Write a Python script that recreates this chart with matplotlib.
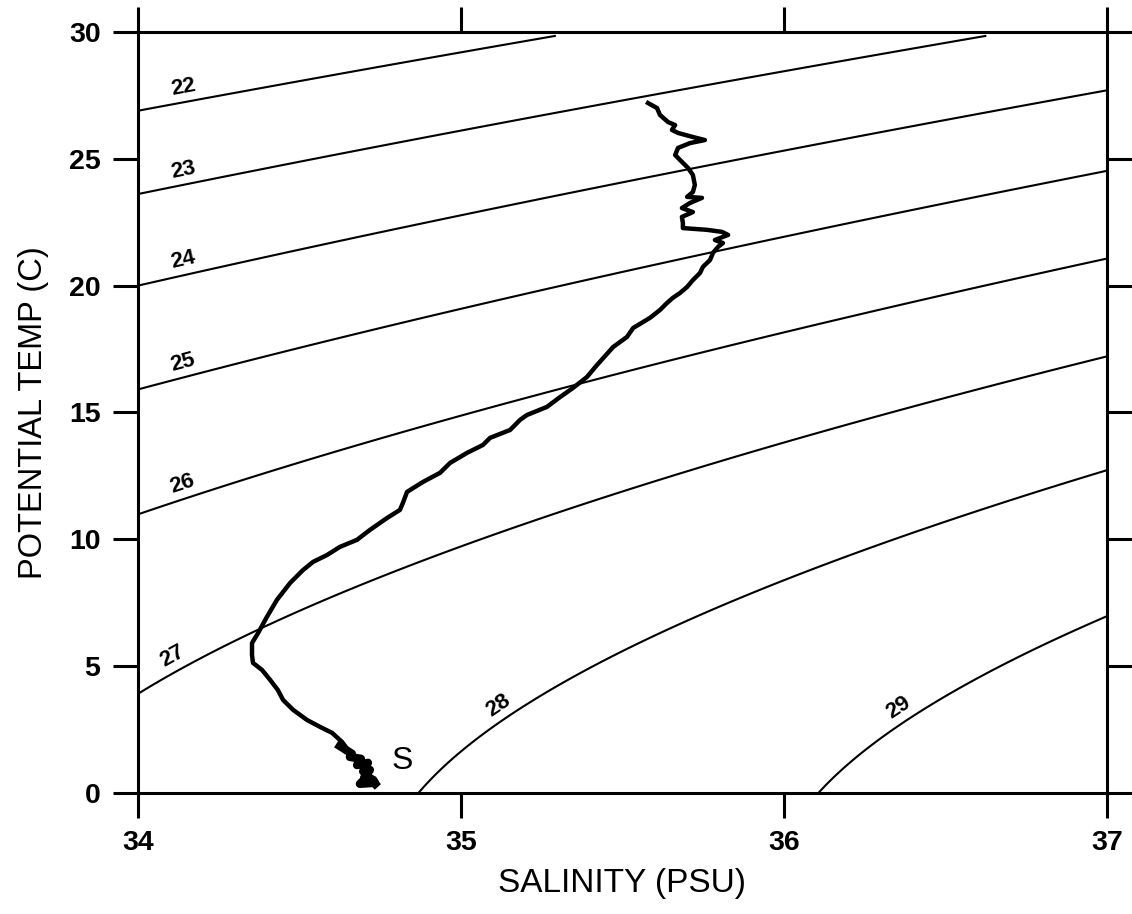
import numpy as np
import matplotlib.pyplot as plt

plt.rcParams['font.family'] = ['Liberation Sans', 'DejaVu Sans']

# T-S profile (salinity PSU, potential temp C), top to bottom
sal_profile = [35.579, 35.607, 35.616, 35.641, 35.663, 35.653, 35.672, 35.718, 35.755, 35.709,
               35.672, 35.663, 35.684, 35.703, 35.718, 35.724, 35.718, 35.700, 35.746, 35.709,
               35.684, 35.718, 35.684, 35.687, 35.687, 35.762, 35.808, 35.827, 35.786, 35.811,
               35.796, 35.780, 35.771, 35.749, 35.740, 35.718, 35.700, 35.678, 35.656, 35.638,
               35.616, 35.585, 35.533, 35.514, 35.471, 35.421, 35.390, 35.347, 35.307, 35.266,
               35.204, 35.183, 35.152, 35.090, 35.068, 35.019, 34.966, 34.935, 34.882, 34.833,
               34.820, 34.811, 34.771, 34.718, 34.678, 34.625, 34.585, 34.542, 34.511, 34.471,
               34.430, 34.399, 34.372, 34.353, 34.353, 34.356, 34.384, 34.409, 34.433, 34.449,
               34.480, 34.523, 34.563, 34.601, 34.632, 34.650, 34.625, 34.662, 34.656, 34.690,
               34.678, 34.712, 34.697, 34.718, 34.700, 34.728, 34.734, 34.687, 34.712, 34.734]
temp_profile = [27.20, 27.00, 26.73, 26.45, 26.33, 26.14, 26.02, 25.86, 25.74, 25.62,
                25.43, 25.15, 24.88, 24.64, 24.36, 23.97, 23.69, 23.50, 23.46, 23.26,
                23.06, 22.90, 22.71, 22.47, 22.27, 22.20, 22.12, 22.00, 21.80, 21.68,
                21.53, 21.29, 21.01, 20.74, 20.50, 20.22, 19.95, 19.71, 19.52, 19.32,
                19.04, 18.73, 18.33, 17.98, 17.58, 16.87, 16.40, 15.97, 15.61, 15.22,
                14.90, 14.71, 14.31, 14.00, 13.72, 13.41, 13.01, 12.62, 12.26, 11.87,
                11.43, 11.16, 10.84, 10.37, 9.98, 9.70, 9.38, 9.11, 8.79, 8.28,
                7.61, 6.94, 6.31, 5.91, 5.44, 5.13, 4.85, 4.46, 4.06, 3.67,
                3.28, 2.88, 2.61, 2.37, 2.01, 1.70, 1.85, 1.55, 1.42, 1.35,
                1.10, 1.19, 0.85, 0.91, 0.60, 0.52, 0.40, 0.36, 0.67, 0.36]

sigma_levels = [22, 23, 24, 25, 26, 27, 28, 29]
label_sal = [34.15, 34.15, 34.15, 34.15, 34.15, 34.13, 35.14, 36.38]

x_ticks = [34, 35, 36, 37]
y_ticks = [0, 5, 10, 15, 20, 25, 30]


def sigma0(s, t):
    # UNESCO EOS-80 density at surface pressure, minus 1000
    rho_w = (999.842594 + 6.793952e-2 * t - 9.095290e-3 * t**2 + 1.001685e-4 * t**3
             - 1.120083e-6 * t**4 + 6.536332e-9 * t**5)
    a = 0.824493 - 4.0899e-3 * t + 7.6438e-5 * t**2 - 8.2467e-7 * t**3 + 5.3875e-9 * t**4
    b = -5.72466e-3 + 1.0227e-4 * t - 1.6546e-6 * t**2
    return rho_w + a * s + b * s**1.5 + 4.8314e-4 * s**2 - 1000.0


fig = plt.figure(figsize=(11.32, 9.14), dpi=100)
ax = fig.add_axes([0.1219, 0.1324, 0.8560, 0.8326])

ss, tt = np.meshgrid(np.linspace(34, 37, 301), np.linspace(0, 29.85, 300))
cs = ax.contour(ss, tt, sigma0(ss, tt), levels=sigma_levels, colors='k', linewidths=1.5)

ax.plot(sal_profile, temp_profile, color='k', lw=3.2, solid_joinstyle='round')
# bottom tangle of the cast is drawn heavier
ax.plot(sal_profile[-14:], temp_profile[-14:], color='k', lw=6, solid_joinstyle='round')

ax.set_xlim(34, 37)
ax.set_ylim(0, 30)
ax.set_xticks(x_ticks)
ax.set_yticks(y_ticks)

# contour labels sitting just above the lines
for lev, segs, s0 in zip(sigma_levels, cs.allsegs, label_sal):
    seg = max(segs, key=len)
    order = np.argsort(seg[:, 0])
    sx, ty = seg[order, 0], seg[order, 1]
    t0 = np.interp(s0, sx, ty)
    p1 = ax.transData.transform((s0 - 0.02, np.interp(s0 - 0.02, sx, ty)))
    p2 = ax.transData.transform((s0 + 0.02, np.interp(s0 + 0.02, sx, ty)))
    ang = np.degrees(np.arctan2(p2[1] - p1[1], p2[0] - p1[0]))
    nx, ny = -np.sin(np.radians(ang)), np.cos(np.radians(ang))
    ax.annotate(str(lev), (s0, t0), xytext=(3 * nx, 3 * ny), textcoords='offset points',
                rotation=ang, rotation_mode='anchor', ha='center', va='bottom',
                fontsize=16, fontweight='bold')

ax.annotate('S', (max(sal_profile[-10:]), min(temp_profile)), xytext=(12, 6),
            textcoords='offset points', fontsize=23, va='bottom', ha='left')

ax.set_xlabel('SALINITY (PSU)', fontsize=24, labelpad=8)
ax.set_ylabel('POTENTIAL TEMP (C)', fontsize=23.5, labelpad=14)

ax.tick_params(direction='out', length=18, width=2.2, top=True, right=True,
               labelsize=20.5, pad=9)
for lab in ax.get_xticklabels() + ax.get_yticklabels():
    lab.set_fontweight('bold')
for sp in ax.spines.values():
    sp.set_linewidth(2.2)

plt.savefig('out.png', dpi=100)
